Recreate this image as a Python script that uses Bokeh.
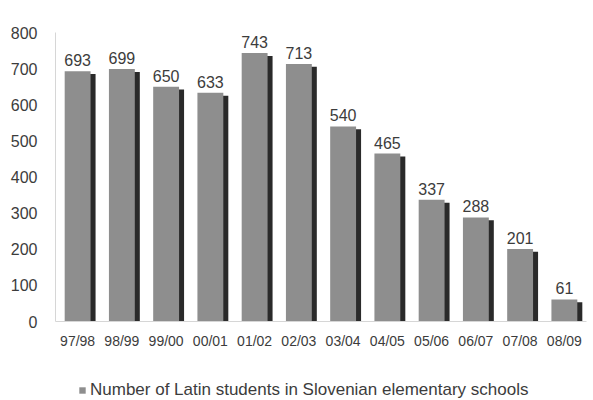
from bokeh.plotting import figure
from bokeh.layouts import column
from bokeh.models import ColumnDataSource, Range1d, FactorRange, Legend, LegendItem
from bokeh.transform import dodge
from bokeh.core.properties import value
from bokeh.embed import file_html
from bokeh.resources import INLINE

years = ["97/98", "98/99", "99/00", "00/01", "01/02", "02/03",
         "03/04", "04/05", "05/06", "06/07", "07/08", "08/09"]
students = [693, 699, 650, 633, 743, 713, 540, 465, 337, 288, 201, 61]
y_ticks = [0, 100, 200, 300, 400, 500, 600, 700, 800]
series_name = "Number of Latin students in Slovenian elementary schools"

FONT = "Liberation Sans"
TXT = "#3c3c3c"
BAR = "#8e8e8e"
SHADOW = "#2a2a2a"

src = ColumnDataSource(dict(x=years, y=students, lab=[str(v) for v in students]))

p = figure(width=593, height=352, x_range=FactorRange(*years), y_range=Range1d(0, 800),
           output_backend="svg", toolbar_location=None,
           min_border_left=55, min_border_right=7, min_border_top=32, min_border_bottom=31,
           background_fill_color="white", border_fill_color="white")
p.outline_line_color = None
p.xgrid.grid_line_color = None
p.ygrid.grid_line_color = None

# shadow range shifted so the dark side sits a few pixels lower
p.extra_y_ranges = {"shadow": Range1d(8, 808)}

p.vbar(x=dodge("x", 0.113, range=p.x_range), top="y", bottom=0, width=0.585, source=src,
       fill_color=SHADOW, line_color=None, y_range_name="shadow")
bars = p.vbar(x="x", top="y", bottom=0, width=0.585, source=src,
              fill_color=BAR, line_color=None)

p.text(x="x", y="y", text="lab", source=src, text_align="center", text_baseline="alphabetic",
       y_offset=-11, text_font=value(FONT), text_font_size="16px", text_color=TXT)

p.yaxis.ticker = y_ticks
p.yaxis.axis_line_color = "#d6d6d6"
p.yaxis.major_tick_line_color = None
p.yaxis.minor_tick_line_color = None
p.yaxis.major_label_standoff = 12
p.yaxis.major_label_text_font = FONT
p.yaxis.major_label_text_font_size = "16px"
p.yaxis.major_label_text_color = TXT

p.xaxis.axis_line_color = "#d6d6d6"
p.xaxis.major_tick_line_color = None
p.xaxis.minor_tick_line_color = None
p.xaxis.major_tick_out = 0
p.xaxis.major_label_standoff = 11
p.xaxis.major_label_text_font = FONT
p.xaxis.major_label_text_font_size = "14px"
p.xaxis.major_label_text_color = TXT

# legend strip below the chart (its bars fall below its visible range; only the key shows)
lg = figure(width=593, height=48, output_backend="svg", toolbar_location=None,
            x_range=FactorRange(*years), y_range=Range1d(5000, 5001),
            min_border_left=0, min_border_right=0, min_border_top=0, min_border_bottom=0,
            background_fill_color="white", border_fill_color="white")
lg.outline_line_color = None
lg.axis.visible = False
lg.grid.visible = False
swatch = lg.vbar(x="x", top="y", bottom=0, width=0.585, source=src,
                 fill_color=BAR, line_color=None)

legend = Legend(items=[LegendItem(label=series_name, renderers=[swatch])],
                location=(23, 0), orientation="horizontal",
                glyph_width=8, glyph_height=8, label_text_font=FONT,
                label_text_font_size="17px", label_text_color=TXT,
                label_standoff=4, border_line_color=None, background_fill_alpha=0,
                padding=0, margin=0)
lg.add_layout(legend, "center")

layout = column(p, lg, spacing=0)
open("out.html", "w").write(file_html(layout, INLINE))
